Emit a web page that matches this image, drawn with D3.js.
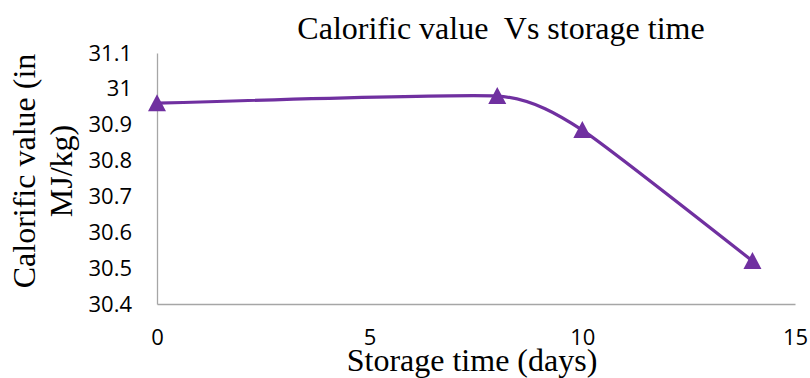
<!DOCTYPE html>
<html>
<head>
<meta charset="utf-8">
<script src="https://cdn.jsdelivr.net/npm/d3@7"></script>
<style>
  html, body { margin: 0; padding: 0; background: #fff; }
  svg { display: block; }
</style>
</head>
<body>
<svg id="chart" width="810" height="378"></svg>
<script>
// Storage time (days) and calorific value (MJ/kg)
const storageDays = [0, 8, 10, 14];
const calorificValues = [30.96, 30.98, 30.885, 30.52];
const xTicks = [0, 5, 10, 15];
const yTicks = [30.4, 30.5, 30.6, 30.7, 30.8, 30.9, 31, 31.1];

const svg = d3.select("#chart");
const serif = "'Liberation Serif', 'Times New Roman', serif";
const sans = "'Open Sans', 'Liberation Sans', sans-serif";

const x = d3.scaleLinear().domain([0, 15]).range([157, 795]);
const y = d3.scaleLinear().domain([30.4, 31.1]).range([304, 53]);

// axes (no tick marks, grey lines)
const xAxis = svg.append("g")
  .attr("transform", `translate(0,${y(30.4)})`)
  .call(d3.axisBottom(x).tickValues(xTicks).tickSize(0).tickPadding(25).tickFormat(d3.format("d")));
xAxis.select(".domain").attr("stroke", "#a6a6a6").attr("stroke-width", 1.3);
xAxis.selectAll("text").attr("font-family", sans).attr("font-size", 22).attr("fill", "#000");

const yAxis = svg.append("g")
  .attr("transform", `translate(${x(0)},0)`)
  .call(d3.axisLeft(y).tickValues(yTicks).tickSize(0).tickPadding(25).tickFormat(d => String(+d.toFixed(1))));
yAxis.select(".domain").attr("stroke", "#a6a6a6").attr("stroke-width", 1.3);
yAxis.selectAll("text").attr("font-family", sans).attr("font-size", 22).attr("fill", "#000");

const data = storageDays.map((d, i) => ({ d, v: calorificValues[i] }));

// smoothed series line
svg.append("path")
  .datum(data)
  .attr("fill", "none")
  .attr("stroke", "#7030a0")
  .attr("stroke-width", 3.2)
  .attr("d", d3.line().x(p => x(p.d)).y(p => y(p.v)).curve(d3.curveCardinal.tension(0.5)));

// triangle markers
svg.selectAll(".marker")
  .data(data)
  .join("path")
  .attr("class", "marker")
  .attr("transform", p => `translate(${x(p.d)},${y(p.v)})`)
  .attr("d", "M0,-9L9,8L-9,8Z")
  .attr("fill", "#7030a0");

// title
svg.append("text")
  .attr("x", 501).attr("y", 39)
  .attr("text-anchor", "middle")
  .attr("font-family", serif).attr("font-size", 32)
  .style("white-space", "pre")
  .text("Calorific value  Vs storage time");

// x axis title
svg.append("text")
  .attr("x", 472).attr("y", 371)
  .attr("text-anchor", "middle")
  .attr("font-family", serif).attr("font-size", 32)
  .text("Storage time (days)");

// y axis title, two lines
const yTitle = svg.append("text")
  .attr("transform", "translate(0,171) rotate(-90)")
  .attr("text-anchor", "middle")
  .attr("font-family", serif).attr("font-size", 32);
yTitle.append("tspan").attr("x", 0).attr("y", 35).text("Calorific value (in");
yTitle.append("tspan").attr("x", 0).attr("y", 72).text("MJ/kg)");
</script>
</body>
</html>
